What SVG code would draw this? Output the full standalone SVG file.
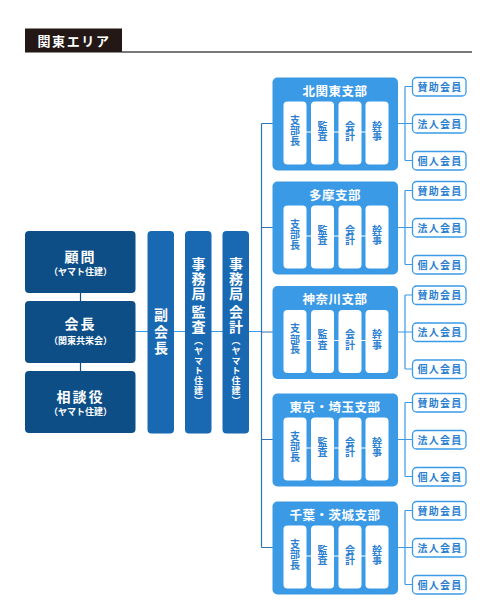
<svg xmlns="http://www.w3.org/2000/svg" width="480" height="615" viewBox="0 0 480 615">
<style>
text{font-family:"Noto Sans CJK JP","Noto Sans",sans-serif;font-weight:bold;text-anchor:middle}
.navy{fill:#0d4e86}
.mid{fill:#1868b2}
.br{fill:#3a9ae6}
.inner{fill:#fff}
.w{fill:#fff}
.main{font-size:14px;letter-spacing:2px}
.sub{font-size:9px}
.v{writing-mode:vertical-rl;text-anchor:start}
.vt{font-size:14px;fill:#fff;letter-spacing:1px}
.vs{font-size:9px;fill:#fff;letter-spacing:1px}
.bt{font-size:12.5px;fill:#fff;letter-spacing:0.5px}
.it{font-size:10px;fill:#2b7fd0;letter-spacing:0.5px}
.mem{fill:#fff;stroke:#3a9ae6;stroke-width:1.3}
.mt{font-size:10px;fill:#2b7fd0;letter-spacing:1.2px}
.cl{stroke:#3a9ae6;stroke-width:1.2;fill:none}
.cm{stroke:#2f74b5;stroke-width:1.2;fill:none}
.cn{stroke:#0d4e86;stroke-width:1.2;fill:none}
.wl{stroke:#fff;stroke-width:1.2}
</style>

<g id="title">
<rect x="25" y="28.5" width="97" height="24" fill="#231815"/>
<line x1="122" y1="52" x2="472" y2="52" stroke="#4d4d4d" stroke-width="1.4"/>
<text x="74" y="46" class="w" style="font-size:13px;letter-spacing:1.6px">関東エリア</text>
</g>

<g id="connectors">
<line class="cn" x1="80.5" y1="292" x2="80.5" y2="372"/>
<line class="cl" x1="135" y1="331.5" x2="262" y2="331.5"/>
<line class="cm" x1="261.5" y1="123.5" x2="261.5" y2="547.5"/>
<path class="cm" d="M261.5 123.5H273M261.5 227.5H273M261.5 332H273M261.5 439.5H273M261.5 547.5H273"/>
<path class="cl" d="M398 123.5H405M405 86.5V160.5M405 86.5H412M405 123.5H412M405 160.5H412"/>
<path class="cl" d="M398 227.5H405M405 190.5V264.5M405 190.5H412M405 227.5H412M405 264.5H412"/>
<path class="cl" d="M398 332H405M405 295V369M405 295H412M405 332H412M405 369H412"/>
<path class="cl" d="M398 439.5H405M405 402.5V476.5M405 402.5H412M405 439.5H412M405 476.5H412"/>
<path class="cl" d="M398 547.5H405M405 510.5V584.5M405 510.5H412M405 547.5H412M405 584.5H412"/>
</g>

<g id="komon">
<rect class="navy" x="25" y="231" width="110.5" height="62" rx="4"/>
<text x="80.5" y="262" class="w main">顧問</text>
<text x="80.5" y="274.5" class="w sub">（ヤマト住建）</text>
</g>
<g id="kaicho">
<rect class="navy" x="25" y="301" width="110.5" height="62" rx="4"/>
<text x="80.5" y="329" class="w main">会長</text>
<text x="80.5" y="343.5" class="w sub">（関東共栄会）</text>
</g>
<g id="sodanyaku">
<rect class="navy" x="25" y="371" width="110.5" height="62" rx="4"/>
<text x="80.5" y="402" class="w main">相談役</text>
<text x="80.5" y="414.5" class="w sub">（ヤマト住建）</text>
</g>

<g id="fukukaicho">
<rect class="mid" x="147.5" y="231" width="26.5" height="202.5" rx="4"/>
<text class="v vt" x="161" y="308" style="letter-spacing:2.5px">副会長</text>
</g>

<g id="kansa">
<rect class="mid" x="185" y="231" width="26.5" height="202.5" rx="4"/>
<text class="v vt" x="198.5" y="257">事務局</text>
<text class="v vt" x="198.5" y="305">監査</text>
<text class="v vs" x="198.5" y="336">（ヤマト住建）</text>
</g>

<g id="kaikei">
<rect class="mid" x="222.5" y="231" width="26.5" height="202.5" rx="4"/>
<text class="v vt" x="236" y="257">事務局</text>
<text class="v vt" x="236" y="305">会計</text>
<text class="v vs" x="236" y="336">（ヤマト住建）</text>
</g>

<defs>
<g id="inners">
<line class="wl" x1="300" y1="54.5" x2="372" y2="54.5"/>
<rect class="inner" x="283.5" y="24" width="23" height="63" rx="4"/>
<rect class="inner" x="311" y="24" width="23" height="63" rx="4"/>
<rect class="inner" x="338.5" y="24" width="23" height="63" rx="4"/>
<rect class="inner" x="365.5" y="24" width="23" height="63" rx="4"/>
<text class="v it" x="295" y="37.7">支部長</text>
<text class="v it" x="322.5" y="43.7">監査</text>
<text class="v it" x="350" y="43.7">会計</text>
<text class="v it" x="377" y="43.7">幹事</text>
</g>
<g id="members">
<rect class="mem" x="412.5" y="0" width="53.5" height="18.5" rx="4"/>
<rect class="mem" x="412.5" y="37" width="53.5" height="18.5" rx="4"/>
<rect class="mem" x="412.5" y="74" width="53.5" height="18.5" rx="4"/>
<text class="mt" x="440" y="13">賛助会員</text>
<text class="mt" x="440" y="50">法人会員</text>
<text class="mt" x="440" y="87">個人会員</text>
</g>
</defs>

<g id="kitakanto" transform="translate(0 77.5)">
<rect class="br" x="272.5" y="0" width="125.5" height="93" rx="5"/>
<text class="bt" x="335" y="18">北関東支部</text>
<use href="#inners"/>
<use href="#members"/>
</g>
<g id="tama" transform="translate(0 181.5)">
<rect class="br" x="272.5" y="0" width="125.5" height="93" rx="5"/>
<text class="bt" x="335" y="18">多摩支部</text>
<use href="#inners"/>
<use href="#members"/>
</g>
<g id="kanagawa" transform="translate(0 286)">
<rect class="br" x="272.5" y="0" width="125.5" height="93" rx="5"/>
<text class="bt" x="335" y="18">神奈川支部</text>
<use href="#inners"/>
<use href="#members"/>
</g>
<g id="tokyo-saitama" transform="translate(0 393.5)">
<rect class="br" x="272.5" y="0" width="125.5" height="93" rx="5"/>
<text class="bt" x="335" y="18">東京・埼玉支部</text>
<use href="#inners"/>
<use href="#members"/>
</g>
<g id="chiba-ibaraki" transform="translate(0 501.5)">
<rect class="br" x="272.5" y="0" width="125.5" height="93" rx="5"/>
<text class="bt" x="335" y="18">千葉・茨城支部</text>
<use href="#inners"/>
<use href="#members"/>
</g>
</svg>
